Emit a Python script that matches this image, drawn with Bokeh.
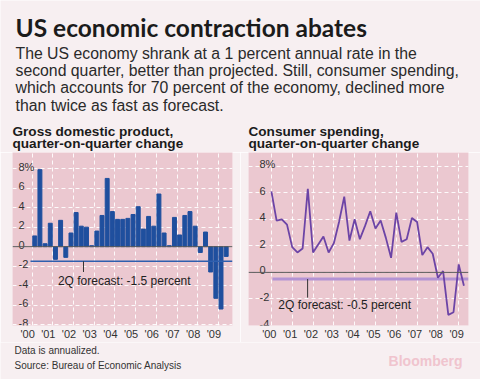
from bokeh.plotting import figure
from bokeh.models import Range1d, FixedTicker, Span
from bokeh.layouts import column, row
from bokeh.embed import file_html
from bokeh.resources import INLINE
from bokeh.core.properties import value

# ---------------- data ----------------
years = [2000, 2001, 2002, 2003, 2004, 2005, 2006, 2007, 2008, 2009]
year_labels = ["'00", "'01", "'02", "'03", "'04", "'05", "'06", "'07", "'08", "'09"]

# quarterly, 2000Q1 .. 2009Q2 (annualized % change)
gdp = [1.1, 7.9, 0.3, 2.4,
       -1.3, 2.7, -1.1, 1.4,
       3.5, 2.1, 2.0, 0.1,
       1.6, 3.2, 7.0, 3.6,
       2.8, 2.8, 2.9, 3.3,
       4.1, 1.8, 3.1, 2.1,
       5.4, 1.4, 0.1, 3.0,
       1.2, 3.2, 3.6, 2.1,
       -0.6, 1.5, -2.6, -5.3,
       -6.4, -1.0]
consumer = [6.1, 3.9, 4.0, 3.6,
            1.9, 1.5, 1.8, 6.3,
            1.5, 2.1, 2.7, 1.5,
            2.2, 3.8, 5.7, 2.4,
            4.0, 2.5, 3.5, 4.6,
            3.3, 3.9, 2.6, 1.1,
            4.5, 2.3, 2.5, 4.1,
            3.8, 1.3, 1.9, 1.4,
            -0.4, 0.1, -3.2, -3.0,
            0.6, -1.0]
gdp_forecast = -1.5
consumer_forecast = -0.5
gdp_ticks = [8, 6, 4, 2, 0, -2, -4, -6, -8]
gdp_tick_labels = ["8%", "6", "4", "2", "0", "-2", "-4", "-6", "-8"]
cons_ticks = [8, 6, 4, 2, 0, -2, -4]
cons_tick_labels = ["8%", "6", "4", "2", "0", "-2", "-4"]

title = "US economic contraction abates"
subtitle = ["The US economy shrank at a 1 percent annual rate in the",
            "second quarter, better than projected. Still, consumer spending,",
            "which accounts for 70 percent of the economy, declined more",
            "than twice as fast as forecast."]
left_title = ["Gross domestic product,", "quarter-on-quarter change"]
right_title = ["Consumer spending,", "quarter-on-quarter change"]
gdp_note = "2Q forecast: -1.5 percent"
cons_note = "2Q forecast: -0.5 percent"
footer = ["Data is annualized.", "Source: Bureau of Economic Analysis"]
brand = "Bloomberg"

# ---------------- styles ----------------
BG = "#f7eff1"
PINK = "#ebc8d0"
BAR = "#1f4f9e"
LINE = "#6c44a6"
FC_LEFT = "#2f5fae"
FC_RIGHT = "#b393d3"
SANS = "Liberation Sans"
TITLE_FONT = "Lato"

W = 480
HEAD_H = 152
CH_H = 190
FOOT_H = 37

# quarter positions (years) derived from the data order
t = [years[0] + i / 4 for i in range(len(gdp))]


def blank(width, height):
    f = figure(width=width, height=height, x_range=Range1d(0, width), y_range=Range1d(0, height),
               x_axis_location=None, y_axis_location=None, toolbar_location=None, title=None,
               output_backend="svg", min_border=0, outline_line_color=None,
               background_fill_color=BG, border_fill_color=BG)
    f.grid.visible = False
    return f


def put(f, xs, centers_from_top, texts, **kw):
    h = f.height
    f.text(x=xs, y=[h - v for v in centers_from_top], text=texts, text_baseline="middle", **kw)


# ---------------- header ----------------
head = blank(W, HEAD_H)
put(head, [15], [26.5], [title], text_font=value(TITLE_FONT), text_font_style="bold",
    text_font_size="24.5px", text_color="#1b1b1b")
put(head, [15] * 4, [52.6, 69.9, 87.2, 104.5], subtitle, text_font=value(SANS),
    text_font_size="15.8px", text_color="#2a2a2a")
put(head, [12, 12], [130.8, 143.4], left_title, text_font=value(SANS), text_font_style="bold",
    text_font_size="13.6px", text_color="#1b1b1b")
put(head, [248, 248], [130.8, 143.4], right_title, text_font=value(SANS), text_font_style="bold",
    text_font_size="13.6px", text_color="#1b1b1b")


def chart(width, bl, br, xr, yr, ticks, tick_labels, label_dx, xlab_shift):
    p = figure(width=width, height=CH_H, x_range=Range1d(*xr), y_range=Range1d(*yr), title=None,
               y_axis_location=None, toolbar_location=None, output_backend="svg",
               min_border_left=bl, min_border_right=br, min_border_top=0, min_border_bottom=16,
               background_fill_color=PINK, border_fill_color=BG, outline_line_color=None)
    p.xgrid.ticker = FixedTicker(ticks=years)
    p.ygrid.ticker = FixedTicker(ticks=ticks)
    p.grid.grid_line_color = "white"
    p.grid.grid_line_dash = "4 3"
    p.grid.grid_line_alpha = 0.9
    lab_pos = [y - xlab_shift for y in years]
    p.xaxis.ticker = FixedTicker(ticks=lab_pos)
    p.xaxis.major_label_overrides = dict(zip(lab_pos, year_labels))
    p.xaxis.axis_line_color = None
    p.xaxis.major_tick_line_color = None
    p.xaxis.minor_tick_line_color = None
    p.xaxis.major_tick_out = 0
    p.xaxis.major_tick_in = 0
    p.xaxis.major_label_standoff = 2
    p.xaxis.major_label_text_font = SANS
    p.xaxis.major_label_text_font_size = "11px"
    p.xaxis.major_label_text_color = "#333333"
    p.text(x=[xr[0]] * len(ticks), y=ticks, text=tick_labels, x_offset=label_dx, y_offset=-2,
           text_font=value(SANS), text_font_size="11px", text_color="#333333",
           text_baseline="alphabetic", text_align="left")
    p.add_layout(Span(location=0, dimension="width", line_color="#5a5a5a", line_width=1))
    return p


# ---------------- left: GDP bars ----------------
left = chart(240, 12, 8, (1999.05, 2009.68), (-8.09, 9.66), gdp_ticks, gdp_tick_labels, 6, 0.22)
left.vbar(x=[v + 0.125 for v in t], top=gdp, bottom=0, width=0.19, color=BAR)
left.line(x=[1999.92, 2009.68], y=[gdp_forecast] * 2, line_color=FC_LEFT, line_width=1.5)
left.line(x=[2002.48, 2002.48], y=[gdp_forecast, -2.6], line_color="#333333", line_width=1)
left.text(x=[2004.45], y=[-3.5], text=[gdp_note], text_font=value(SANS), text_font_size="12px",
          text_color="#222222", text_align="center", text_baseline="middle")

# ---------------- right: consumer spending line ----------------
right = chart(240, 8, 12, (1998.9, 2009.47), (-4.0, 9.03), cons_ticks, cons_tick_labels, 11, 0.1)
right.line(x=[2000.05, 2009.47], y=[consumer_forecast] * 2, line_color=FC_RIGHT, line_width=3)
right.line(x=t, y=consumer, line_color=LINE, line_width=1.8)
right.line(x=[2001.74, 2001.74], y=[consumer_forecast, -1.9], line_color="#333333", line_width=1)
right.text(x=[2003.52], y=[-2.43], text=[cons_note], text_font=value(SANS), text_font_size="12px",
           text_color="#222222", text_align="center", text_baseline="middle")

# ---------------- footer ----------------
foot = blank(W, FOOT_H)
put(foot, [14, 14], [8.4, 23.4], footer, text_font=value(SANS), text_font_size="10px",
    text_color="#333333")
put(foot, [462], [18.5], [brand], text_font=value(SANS), text_font_style="bold",
    text_font_size="14px", text_color="#f0c4ce", text_align="right")

layout = column(head, row(left, right, spacing=0), foot, spacing=0)
open("out.html", "w").write(file_html(layout, INLINE))
